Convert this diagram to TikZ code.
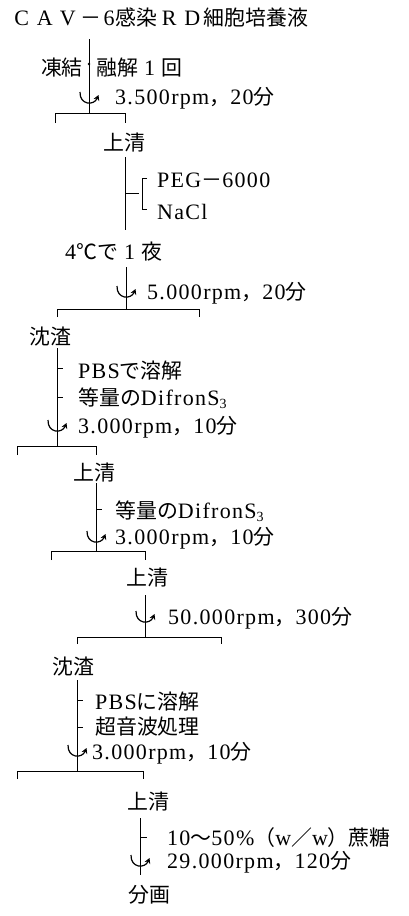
\documentclass[tikz,border=0pt]{standalone}
\usepackage{fontspec}
\setmainfont{Liberation Serif}[LetterSpace=6]
\newfontfamily\jp{Noto Sans CJK JP}[Scale=0.95]
\usetikzlibrary{arrows.meta}
\newcommand{\fw}[1]{\makebox[1.05em]{#1}}
\newcommand{\subthree}{\raisebox{-0.3ex}{\fontsize{14}{14}\selectfont 3}}
\begin{document}
\begin{tikzpicture}[x=1pt,y=-1pt,
  lbl/.style={anchor=west,inner sep=0pt,font=\fontsize{22}{26}\selectfont},
  flow/.style={line width=0.8pt},
  cf/.pic={\draw[line width=1.2pt,-{Stealth[length=5.5pt,width=6pt]}] (-9,-6) .. controls (-9.5,7) and (5,8) .. (9.5,-3);}]
\useasboundingbox (0,0) rectangle (408,916);
% title
\node[lbl] (t0) at (10,18) {\fw{C}\fw{A}\fw{V}\fw{\jp －}\makebox[0.6em]{6}{\jp 感染}\fw{R}\fw{D}{\jp 細胞培養液}};
\coordinate (a0) at (89,39);
\coordinate (b1) at (89,113);
\draw[flow] (a0) -- (b1);
\fill (89,64) circle (1.4);
\node[lbl,anchor=east] (f1) at (83,68) {\jp 凍結};
\node[lbl] (f2) at (96,68) {{\jp 融解}\fw{1}{\jp 回}};
\pic at (89,98) {cf};
\node[lbl] (r1) at (115,98) {3.500rpm{\jp ，}20{\jp 分}};
\draw[flow] (55,123) -- (55,113) -- (125,113) -- (125,123);
% s1
\node[lbl] (s1) at (103,143) {\jp 上清};
\coordinate (a1) at (125,157);
\coordinate (e1) at (125,230);
\draw[flow] (a1) -- (e1);
\draw[flow] (125,193) -- (139,193);
\draw[flow] (147,178) -- (142,178) -- (142,209) -- (147,209);
\node[lbl] (peg) at (157,180) {PEG{\jp －}6000};
\node[lbl] (nacl) at (157,212) {NaCl};
\node[lbl] (n4) at (65,252) {4{\jp ℃で}\fw{1}{\jp 夜}};
\coordinate (a2) at (126,267);
\coordinate (b2) at (126,309);
\draw[flow] (a2) -- (b2);
\pic at (126,292) {cf};
\node[lbl] (r2) at (147,293) {5.000rpm{\jp ，}20{\jp 分}};
\draw[flow] (57,317) -- (57,309) -- (199,309) -- (199,317);
% p1
\node[lbl] (p1) at (29,337) {\jp 沈渣};
\coordinate (a3) at (57,348);
\coordinate (b3) at (57,446);
\draw[flow] (a3) -- (b3);
\draw[flow] (57,368) -- (63,368);
\draw[flow] (57,397) -- (63,397);
\node[lbl] (m1) at (78,371) {PBS{\jp で溶解}};
\node[lbl] (m2) at (78,398) {{\jp 等量の}DifronS\subthree};
\pic at (57,426) {cf};
\node[lbl] (r3) at (78,427) {3.000rpm{\jp ，}10{\jp 分}};
\draw[flow] (17,455) -- (17,446) -- (96,446) -- (96,455);
% s2
\node[lbl] (s2) at (73,473) {\jp 上清};
\coordinate (a4) at (96,483);
\coordinate (b4) at (96,551);
\draw[flow] (a4) -- (b4);
\draw[flow] (96,509) -- (102,509);
\node[lbl] (m3) at (115,511) {{\jp 等量の}DifronS\subthree};
\pic at (96,537) {cf};
\node[lbl] (r4) at (115,538) {3.000rpm{\jp ，}10{\jp 分}};
\draw[flow] (51,560) -- (51,551) -- (145,551) -- (145,560);
% s3
\node[lbl] (s3) at (126,578) {\jp 上清};
\coordinate (a5) at (145,595);
\coordinate (b5) at (145,637);
\draw[flow] (a5) -- (b5);
\pic at (145,617) {cf};
\node[lbl] (r5) at (168,618) {50.000rpm{\jp ，}300{\jp 分}};
\draw[flow] (77,644) -- (77,637) -- (221,637) -- (221,644);
% p2
\node[lbl] (p2) at (52,667) {\jp 沈渣};
\coordinate (a6) at (77,680);
\coordinate (b6) at (77,771);
\draw[flow] (a6) -- (b6);
\draw[flow] (77,700) -- (83,700);
\draw[flow] (77,727) -- (83,727);
\node[lbl] (m4) at (95,702) {PBS{\jp に溶解}};
\node[lbl] (m5) at (95,727) {\jp 超音波処理};
\pic at (77,751) {cf};
\node[lbl] (r6) at (92,753) {3.000rpm{\jp ，}10{\jp 分}};
\draw[flow] (17,779) -- (17,771) -- (143,771) -- (143,779);
% s4
\node[lbl] (s4) at (127,802) {\jp 上清};
\coordinate (a7) at (140,818);
\coordinate (b7) at (140,875);
\draw[flow] (a7) -- (b7);
\draw[flow] (140,837) -- (147,837);
\node[lbl] (m6) at (167,838) {10{\jp ～}50\%{\jp （}w{\jp ／}w{\jp ）蔗糖}};
\pic at (140,861) {cf};
\node[lbl] (r7) at (167,862) {29.000rpm{\jp ，}120{\jp 分}};
\node[lbl] (fin) at (128,895) {\jp 分画};
\end{tikzpicture}
\end{document}
